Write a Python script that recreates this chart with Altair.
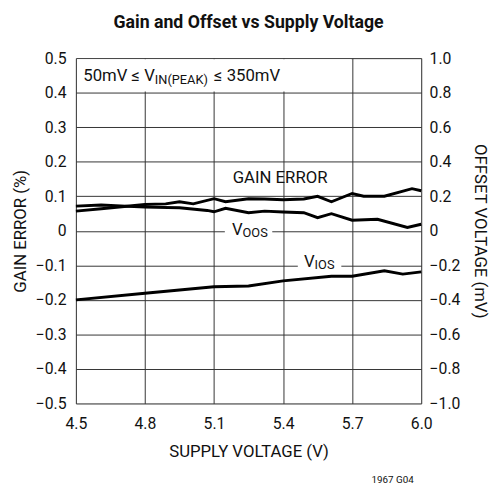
import altair as alt
import pandas as pd

# ---------------- data ----------------
gain_v = [4.5, 4.61, 4.8, 4.89, 4.95, 5.01, 5.1, 5.15, 5.25, 5.32, 5.4, 5.49, 5.55, 5.61, 5.7, 5.75, 5.84, 5.96, 6.0]
gain = [0.057, 0.064, 0.076, 0.078, 0.084, 0.078, 0.093, 0.084, 0.093, 0.092, 0.09, 0.092, 0.1, 0.084, 0.108, 0.1, 0.1, 0.122, 0.116]

voos_v = [4.5, 4.61, 4.8, 4.95, 5.07, 5.1, 5.15, 5.25, 5.32, 5.4, 5.49, 5.55, 5.61, 5.7, 5.81, 5.94, 6.0]
voos = [0.143, 0.149, 0.137, 0.133, 0.118, 0.110, 0.130, 0.105, 0.114, 0.109, 0.105, 0.076, 0.099, 0.061, 0.067, 0.019, 0.038]

vios_v = [4.5, 4.8, 5.1, 5.25, 5.4, 5.61, 5.7, 5.84, 5.92, 6.0]
vios = [-0.4, -0.362, -0.324, -0.32, -0.29, -0.263, -0.263, -0.232, -0.251, -0.238]

x_ticks = [4.5, 4.8, 5.1, 5.4, 5.7, 6.0]
left_ticks = [-0.5, -0.4, -0.3, -0.2, -0.1, 0.0, 0.1, 0.2, 0.3, 0.4, 0.5]
right_ticks = [-1.0, -0.8, -0.6, -0.4, -0.2, 0.0, 0.2, 0.4, 0.6, 0.8, 1.0]

label_text = ["GAIN ERROR"]
label_x = [5.387]
label_y = [0.153]

FONT = "Roboto, Liberation Sans, sans-serif"
INK = "#111111"

xs = alt.Scale(domain=[4.5, 6.0], nice=False, zero=False)
ls = alt.Scale(domain=[-0.5, 0.5], nice=False, zero=False)
rs = alt.Scale(domain=[-1.0, 1.0], nice=False, zero=False)

common = dict(ticks=False, domain=False, labelFont=FONT, titleFont=FONT,
              labelFontSize=16, titleFontSize=17, titleFontWeight="normal",
              labelColor=INK, titleColor=INK, labelFlush=False, labelOverlap=False)

x_axis = alt.Axis(values=x_ticks, labelExpr="format(datum.value, '.1f')",
                  title="SUPPLY VOLTAGE (V)", grid=True, labelPadding=12, titlePadding=13,
                  gridColor="#333333", gridWidth=1, **common)

left_axis = alt.Axis(values=left_ticks,
                     labelExpr="datum.value == 0 ? '0' : format(datum.value, '.1f')",
                     title="GAIN ERROR (%)", grid=True, labelPadding=10, titlePadding=6,
                     gridColor="#333333", gridWidth=1, **common)

right_axis = alt.Axis(values=right_ticks, orient="right",
                      labelExpr="datum.value == 0 ? '0' : format(datum.value, '.1f')",
                      title="OFFSET VOLTAGE (mV)", grid=False, labelPadding=8, titlePadding=11,
                      **common)

gain_df = pd.DataFrame({"v": gain_v, "val": gain})
voos_df = pd.DataFrame({"v": voos_v, "val": voos})
vios_df = pd.DataFrame({"v": vios_v, "val": vios})

X = alt.X("v:Q", scale=xs, axis=x_axis)

gain_line = alt.Chart(gain_df).mark_line(color="black", strokeWidth=3).encode(
    x=X, y=alt.Y("val:Q", scale=ls, axis=left_axis))

voos_line = alt.Chart(voos_df).mark_line(color="black", strokeWidth=3).encode(
    x=X, y=alt.Y("val:Q", scale=rs, axis=right_axis))

vios_line = alt.Chart(vios_df).mark_line(color="black", strokeWidth=3).encode(
    x=X, y=alt.Y("val:Q", scale=rs, axis=None))

# white backgrounds (box of condition text, gaps behind V_OOS / V_IOS labels)
bg_df = pd.DataFrame({
    "x1": [4.505, 5.147, 5.464],
    "x2": [5.695, 5.353, 5.653],
    "y1": [0.403, -0.02, -0.12],
    "y2": [0.497, 0.02, -0.08],
})
bg = alt.Chart(bg_df).mark_rect(color="white").encode(
    x=alt.X("x1:Q", scale=xs, axis=x_axis), x2="x2:Q",
    y=alt.Y("y1:Q", scale=ls, axis=None), y2="y2:Q")


def txt(df, size, align, dy, baseline="alphabetic"):
    return alt.Chart(df).mark_text(font=FONT, fontSize=size, align=align, baseline=baseline,
                                   dy=dy, color=INK).encode(
        x=alt.X("x:Q", scale=xs, axis=x_axis),
        y=alt.Y("y:Q", scale=ls, axis=None),
        text="t:N")


gain_lbl = txt(pd.DataFrame({"x": label_x, "y": label_y, "t": label_text}), 17, "center", 0, "middle")

big_df = pd.DataFrame({"x": [4.843, 5.10, 5.224, 5.537],
                       "y": [0.5, 0.5, 0.0, -0.1],
                       "t": ["50mV ≤ V", "≤ 350mV", "V", "V"]})
cond_main = txt(big_df.iloc[[0]], 17, "right", 23)
cond_tail = txt(big_df.iloc[[1]], 17, "left", 23)
v_oos = txt(big_df.iloc[[2]], 17, "right", 4)
v_ios = txt(big_df.iloc[[3]], 17, "right", 2)

sub_df = pd.DataFrame({"x": [4.843, 5.224, 5.537], "y": [0.5, 0.0, -0.1],
                       "t": ["IN(PEAK)", "OOS", "IOS"]})
sub_cond = txt(sub_df.iloc[[0]], 13, "left", 26)
sub_oos = txt(sub_df.iloc[[1]], 13, "left", 6)
sub_ios = txt(sub_df.iloc[[2]], 13, "left", 4)

code_df = pd.DataFrame({"t": ["1967 G04"]})
code = alt.Chart(code_df).mark_text(font=FONT, fontSize=10,
                                    color=INK, align="center").encode(
    x=alt.value(322), y=alt.value(429), text="t:N")

chart = alt.layer(
    gain_line, bg, voos_line, vios_line, gain_lbl, cond_main, cond_tail, v_oos, v_ios,
    sub_cond, sub_oos, sub_ios, code
).resolve_scale(y="independent").properties(
    width=351, height=351,
    title=alt.TitleParams("Gain and Offset vs Supply Voltage", font=FONT, fontSize=18,
                          fontWeight="bold", anchor="middle", offset=19, color=INK),
    autosize=alt.AutoSizeParams(type="none"),
    padding={"left": 69, "top": 47, "right": 75, "bottom": 83},
).configure_view(stroke="black", strokeWidth=2).configure(background="white")

chart.save("out.html", embed_options={"renderer": "svg", "actions": False})
